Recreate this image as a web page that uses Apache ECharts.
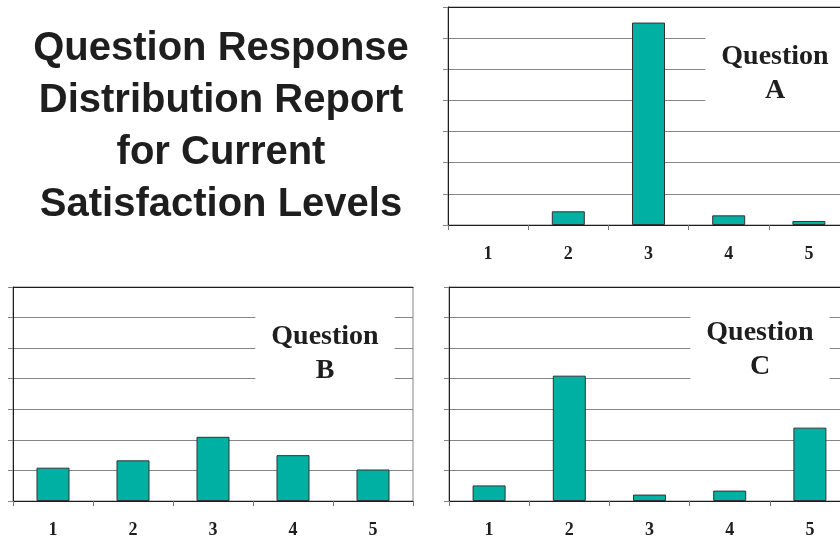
<!DOCTYPE html>
<html>
<head>
<meta charset="utf-8">
<script src="https://cdn.jsdelivr.net/npm/echarts@6/dist/echarts.min.js"></script>
<style>
  html, body { margin: 0; padding: 0; background: #fff; overflow: hidden; }
  /* a bit wider than the page: plots A and C run past the right edge */
  #chart { width: 860px; height: 539px; }
</style>
</head>
<body>
<div id="chart"></div>
<script>
// response scale 1..5
var categories = ['1', '2', '3', '4', '5']
// share of responses (y axis 0..70, no labels shown)
var questionA = [0, 4.4, 65, 3.1, 1.3]
var questionB = [10.9, 13.3, 21, 15, 10.3]
var questionC = [5.1, 41, 2.1, 3.4, 24]
var yMax = 70
var yStep = 10

var barColor = '#00b0a2'
var gridColor = '#858585'
var axisColor = '#1e1e1e'

var myChart = echarts.init(document.getElementById('chart'))

// one plot per question: [left, top, width, height]
var boxes = [
  [448, 7, 401, 218],
  [13, 287, 400, 218],
  [449, 287, 401, 218]
]

function qTitle (letter, cx, top) {
  return {
    text: 'Question\n' + letter,
    left: cx - 16,
    top: top,
    textAlign: 'center',
    textVerticalAlign: 'top',
    padding: [8, 16, 8, 16],
    backgroundColor: '#fff',
    textStyle: {
      fontFamily: 'Liberation Serif',
      fontWeight: 'bold',
      fontSize: 28,
      lineHeight: 34,
      color: '#1e1e1e'
    }
  }
}

var grids = [], xAxes = [], yAxes = []
boxes.forEach(function (b, i) {
  grids.push({ left: b[0], top: b[1], width: b[2], height: b[3], show: true, borderColor: gridColor, borderWidth: 1 })
  xAxes.push({
    type: 'category',
    gridIndex: i,
    data: categories,
    axisLine: { lineStyle: { color: axisColor, width: 1 } },
    axisTick: { show: true, length: 5, lineStyle: { color: '#777' } },
    axisLabel: { margin: 20, fontFamily: 'Liberation Serif', fontWeight: 'bold', fontSize: 18, color: '#1e1e1e' }
  })
  yAxes.push({
    type: 'value',
    gridIndex: i,
    min: 0,
    max: yMax,
    interval: yStep,
    axisLine: { show: true, lineStyle: { color: axisColor, width: 1 } },
    axisTick: { show: true, length: 5, lineStyle: { color: gridColor } },
    axisLabel: { show: false },
    splitLine: { show: true, lineStyle: { color: gridColor, width: 1 } }
  })
})
// dark frame line along the top of each plot
boxes.forEach(function (b, i) {
  xAxes.push({
    type: 'category',
    gridIndex: i,
    position: 'top',
    data: categories,
    axisLine: { onZero: false, lineStyle: { color: axisColor, width: 1 } },
    axisTick: { show: false },
    axisLabel: { show: false }
  })
})

function barSeries (data, i) {
  return {
    type: 'bar',
    xAxisIndex: i,
    yAxisIndex: i,
    // an empty bar gets no outline
    data: data.map(function (v) {
      return v === 0 ? { value: v, itemStyle: { borderWidth: 0 } } : v
    }),
    barWidth: 33,
    itemStyle: { color: barColor, borderColor: '#333', borderWidth: 1 }
  }
}

var option = {
  animation: false,
  backgroundColor: '#fff',
  title: [
    {
      text: 'Question Response\nDistribution Report\nfor Current\nSatisfaction Levels',
      left: 221,
      top: 23,
      padding: 0,
      textAlign: 'center',
      textVerticalAlign: 'top',
      textStyle: {
        fontFamily: 'Liberation Sans',
        fontWeight: 'bold',
        fontSize: 40,
        lineHeight: 52,
        color: '#1e1e1e'
      }
    },
    qTitle('A', 775, 32),
    qTitle('B', 325, 312),
    qTitle('C', 760, 308)
  ],
  grid: grids,
  xAxis: xAxes,
  yAxis: yAxes,
  series: [
    barSeries(questionA, 0),
    barSeries(questionB, 1),
    barSeries(questionC, 2)
  ]
}

myChart.setOption(option)
</script>
</body>
</html>
